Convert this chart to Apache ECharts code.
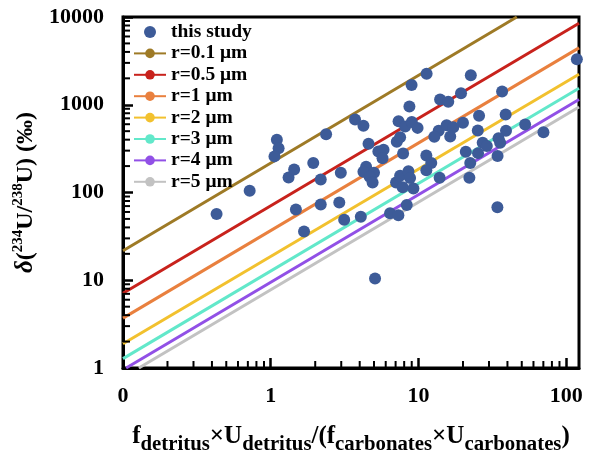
<!DOCTYPE html>
<html><head><meta charset="utf-8">
<script src="https://cdn.jsdelivr.net/npm/echarts@6/dist/echarts.min.js"></script>
<style>html,body{margin:0;padding:0;background:#fff}#c{width:595px;height:460px}</style>
</head><body><div id="c"></div>
<script>
// ---- data ----
const studyX = [0.43,0.72,1.10,1.13,1.06,1.32,1.44,1.48,1.68,1.94,
  2.18,2.18,2.37,2.91,2.98,3.14,3.72,4.24,4.07,4.42,
  4.24,5.00,4.67,4.89,4.59,5.08,5.35,5.80,5.71,6.42,
  7.13,7.51,7.33,8.12,9.01,9.86,7.87,7.05,7.51,8.55,
  8.77,7.81,9.24,7.31,8.33,8.68,8.98,11.35,11.3,12.2,
  11.3,14.0,15.9,19.4,22.6,36.8,25.7,38.9,20.0,13.7,
  12.8,15.5,17.2,16.4,25.2,39.1,52.7,70.1,34.8,35.7,
  27.2,29.0,20.9,25.3,34.3,22.4,13.9,22.1,34.2,118];
const studyY = [57,105,400,320,258,148,183,64,36,217,
  141,73,460,77,168,49,680,576,53,196,
  172,168,151,130,360,10.5,294,307,245,58,
  379,426,648,566,636,545,278,130,155,175,
  146,115,111,55,72,957,1680,2260,264,217,
  179,1150,1080,1350,2170,1420,747,772,625,504,
  431,585,554,434,510,504,596,485,415,369,
  369,339,292,281,260,217,147,147,68,3290];

const modelNames  = ['r=0.1 μm','r=0.5 μm','r=1 μm','r=2 μm','r=3 μm','r=4 μm','r=5 μm'];
const modelColors = ['#9E7A26','#C8221C','#E9803E','#F2C12E','#62E8CA','#9150E6','#C2C2C2'];
const modelStartX = [0.1, 0.1, 0.1, 0.1, 0.1, 0.105, 0.128];
const modelStartY = [21.7, 7.1, 3.7, 1.89, 1.28, 1, 1];
const modelEndX   = [46.3, 122, 122, 122, 122, 122, 122];
const modelEndY   = [10000, 8500, 4450, 2230, 1540, 1147, 942];

const xTickValues = [0.1, 1, 10, 100];
const xTickLabels = ['0', '1', '10', '100'];
const yTickValues = [1, 10, 100, 1000, 10000];
const yTickLabels = ['1', '10', '100', '1000', '10000'];
const xMin = 0.1, xMax = 122, yMin = 1, yMax = 10000;

// ---- chart ----
const FONT = '"Liberation Serif", "Times New Roman", serif';
const minorX = [], minorY = [];
[0.1, 1, 10].forEach(d => { for (let k = 2; k <= 9; k++) minorX.push(d * k); });
[1, 10, 100, 1000].forEach(d => { for (let k = 2; k <= 9; k++) minorY.push(d * k); });

function labelFor(values, labels) {
  return function (v) {
    for (let i = 0; i < values.length; i++) {
      if (Math.abs(Math.log10(v) - Math.log10(values[i])) < 1e-6) return labels[i];
    }
    return '';
  };
}

const series = [];
modelNames.forEach((n, i) => {
  series.push({
    name: n, type: 'line', showSymbol: false, symbol: 'none', clip: true,
    data: [[modelStartX[i], modelStartY[i]], [modelEndX[i], modelEndY[i]]],
    lineStyle: { color: modelColors[i], width: 3 },
    itemStyle: { color: modelColors[i] },
    z: 2, silent: true, animation: false
  });
});
series.push({
  name: 'this study', type: 'scatter', symbol: 'circle', symbolSize: 12,
  data: studyX.map((x, i) => [x, studyY[i]]),
  itemStyle: { color: '#3D5B98', opacity: 1 },
  z: 4, animation: false
});
series.push({
  type: 'custom', silent: true, z: 6, animation: false,
  data: minorX.map(v => [v, yMin]),
  renderItem: function (params, api) {
    const p = api.coord([api.value(0), api.value(1)]);
    return { type: 'line', shape: { x1: p[0], y1: p[1], x2: p[0], y2: p[1] - 7 },
      style: { stroke: '#000', lineWidth: 2 } };
  }
});
series.push({
  type: 'custom', silent: true, z: 6, animation: false,
  data: minorY.map(v => [xMin, v]),
  renderItem: function (params, api) {
    const p = api.coord([api.value(0), api.value(1)]);
    return { type: 'line', shape: { x1: p[0], y1: p[1], x2: p[0] + 7, y2: p[1] },
      style: { stroke: '#000', lineWidth: 2 } };
  }
});

const axisCommon = {
  type: 'log', logBase: 10,
  axisLine: { show: true, lineStyle: { color: '#000', width: 3 } },
  axisTick: { show: true, inside: true, length: 10, lineStyle: { color: '#000', width: 2.5 } },
  minorTick: { show: false },
  splitLine: { show: false },
};

const chart = echarts.init(document.getElementById('c'), null, { renderer: 'canvas' });
chart.setOption({
  animation: false,
  backgroundColor: '#fff',
  grid: { left: 123, right: 16, top: 17, bottom: 87, show: true, borderColor: '#000', borderWidth: 3, backgroundColor: 'transparent' },
  legend: {
    data: ['this study'].concat(modelNames),
    orient: 'vertical', left: 133, top: 22, padding: 0,
    itemWidth: 32, itemHeight: 12, itemGap: 1.4,
    textStyle: { fontFamily: FONT, fontWeight: 'bold', fontSize: 19.5, color: '#000', lineHeight: 20 }
  },
  xAxis: Object.assign({}, axisCommon, {
    min: xMin, max: xMax,
    axisLabel: { color: '#000', fontFamily: FONT, fontWeight: 'bold', fontSize: 22, margin: 17,
      showMaxLabel: false, formatter: labelFor(xTickValues, xTickLabels) },
    name: '{m|f}{s|detritus}{m|×U}{s|detritus}{m|/(f}{s|carbonates}{m|×U}{s|carbonates}{m|)}',
    nameLocation: 'middle', nameGap: 51,
    nameTextStyle: {
      rich: {
        m: { fontFamily: FONT, fontWeight: 'bold', fontSize: 25, color: '#000', lineHeight: 36 },
        s: { fontFamily: FONT, fontWeight: 'bold', fontSize: 20.8, color: '#000', lineHeight: 22, verticalAlign: 'bottom' }
      }
    }
  }),
  yAxis: Object.assign({}, axisCommon, {
    min: yMin, max: yMax,
    axisLabel: { color: '#000', fontFamily: FONT, fontWeight: 'bold', fontSize: 22, margin: 19,
      formatter: labelFor(yTickValues, yTickLabels) },
    name: '{d|δ}{m|(}{p|234}{m|U/}{p|238}{m|U) (‰)}',
    nameLocation: 'middle', nameGap: 80, nameRotate: 90,
    nameTextStyle: {
      rich: {
        d: { fontFamily: FONT, fontWeight: 'bold', fontStyle: 'italic', fontSize: 25, color: '#000', lineHeight: 30 },
        m: { fontFamily: FONT, fontWeight: 'bold', fontSize: 24, color: '#000', lineHeight: 30 },
        p: { fontFamily: FONT, fontWeight: 'bold', fontSize: 15, color: '#000', lineHeight: 20, verticalAlign: 'top' }
      }
    }
  }),
  series: series
});
</script>
</body></html>
